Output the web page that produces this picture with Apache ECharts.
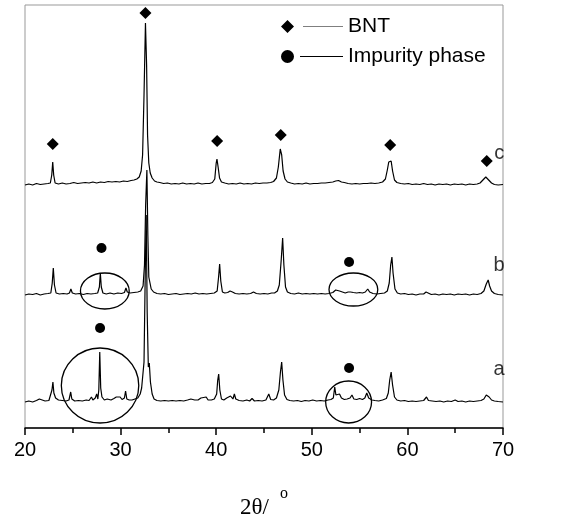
<!DOCTYPE html>
<html><head><meta charset="utf-8">
<script src="https://cdn.jsdelivr.net/npm/echarts@6/dist/echarts.min.js"></script>
<style>html,body{margin:0;padding:0;background:#fff}#c{width:565px;height:515px}</style>
</head><body><div id="c"></div>
<script>
// x ticks
const xTicks = [20, 30, 40, 50, 60, 70];
// vertical offsets of the stacked patterns (intensity units)
const offsetA = 26, offsetB = 133, offsetC = 243;
// Pattern c: [2theta, intensity above its baseline]
const traceC = [[20,0],[20.4,1],[20.8,0],[21.2,1.5],[21.6,0.5],[22,1],[22.4,1.5],[22.65,2],[22.8,10],[22.9,23],[23.0,10],[23.15,2],[23.5,1],[23.9,2],[24.3,1],[24.7,1.5],[25.1,2.5],[25.5,1.5],[25.9,2],[26.3,2.5],[26.7,2],[27.1,3],[27.5,2],[27.9,3],[28.3,2.5],[28.7,3.5],[29.1,3],[29.5,3.5],[29.9,3],[30.3,4],[30.7,3.5],[31.1,4.5],[31.4,5],[31.7,6],[31.95,8],[32.15,14],[32.3,30],[32.45,90],[32.6,162],[32.72,120],[32.82,50],[32.95,22],[33.1,12],[33.3,7],[33.55,4],[33.8,3],[34.1,2.5],[34.5,1.5],[34.9,2],[35.3,1],[35.7,1.5],[36.1,1],[36.5,2],[36.9,1],[37.3,1.5],[37.7,1],[38.1,2],[38.5,1],[38.9,1.5],[39.3,1.5],[39.6,2.5],[39.85,6],[40.0,22],[40.08,26],[40.2,18],[40.35,7],[40.55,3],[40.9,2],[41.3,1],[41.7,1.5],[42.1,1],[42.5,2],[42.9,1],[43.3,1.5],[43.7,1],[44.1,2],[44.5,1.5],[44.9,2],[45.3,2],[45.7,2.5],[46.0,3.5],[46.3,7],[46.5,18],[46.7,36],[46.85,30],[47.0,14],[47.2,6],[47.45,3],[47.8,2],[48.2,1],[48.6,1.5],[49.0,1],[49.4,2],[49.8,1],[50.2,1.5],[50.6,1.5],[51.0,2],[51.4,2],[51.8,2.5],[52.2,3],[52.5,4],[52.8,4.5],[53.1,3],[53.4,2.5],[53.8,1.5],[54.2,1],[54.6,1.5],[55.0,1],[55.4,1.5],[55.8,1.5],[56.2,2],[56.6,1.5],[57.0,2],[57.4,3],[57.7,6],[57.9,15],[58.05,23],[58.15,22],[58.3,24],[58.45,14],[58.65,5],[58.9,2.5],[59.3,1.5],[59.7,1],[60.1,1.5],[60.5,0.5],[60.9,1],[61.3,0.5],[61.7,1.5],[62.1,0.5],[62.5,1],[62.9,0],[63.3,1],[63.7,0.5],[64.1,1],[64.5,0],[64.9,1],[65.3,0.5],[65.7,1],[66.1,0],[66.5,1],[66.9,0.5],[67.3,1],[67.6,2],[67.9,5],[68.2,8],[68.5,5],[68.8,2],[69.1,0.5],[69.5,0],[70,0.5]];
// Pattern b
const traceB = [[20,0],[20.4,1],[20.8,0.5],[21.2,1.5],[21.6,0],[22.0,1],[22.4,1.5],[22.7,2],[22.85,12],[22.96,27],[23.08,10],[23.25,2],[23.6,1],[24.0,1.5],[24.4,1],[24.65,2],[24.8,6],[24.95,2],[25.3,1],[25.7,1.5],[26.1,0.5],[26.5,1.5],[26.9,1],[27.3,1.5],[27.6,2],[27.78,8],[27.88,22],[27.98,8],[28.15,2],[28.5,1],[28.9,2],[29.3,1],[29.7,2],[30.1,1.5],[30.4,2.5],[30.56,7],[30.7,3],[31.0,2],[31.4,2.5],[31.8,3],[32.1,4],[32.35,9],[32.5,30],[32.62,90],[32.75,125],[32.85,60],[32.95,18],[33.05,17],[33.2,6],[33.45,3],[33.8,1.5],[34.2,1],[34.6,1.5],[35.0,0.5],[35.4,1],[35.8,1.5],[36.2,0.5],[36.6,1],[37.0,1.5],[37.4,1],[37.8,2],[38.2,1],[38.6,1.5],[39.0,1],[39.4,1.5],[39.8,2],[40.1,4],[40.25,18],[40.36,31],[40.48,14],[40.65,3],[40.9,2],[41.2,2.5],[41.45,4],[41.7,3],[42.0,1.5],[42.4,1],[42.8,1.5],[43.2,1],[43.6,1.5],[43.9,3],[44.2,1.5],[44.6,1],[45.0,1.5],[45.4,1],[45.8,2],[46.1,2],[46.4,4],[46.6,10],[46.8,35],[46.95,57],[47.08,30],[47.25,8],[47.45,3],[47.8,1.5],[48.2,1],[48.6,2],[49.0,1],[49.4,1.5],[49.8,1],[50.2,1.5],[50.6,1],[51.0,1.5],[51.4,1],[51.8,1.5],[52.2,2.5],[52.5,5],[52.7,7],[52.9,4],[53.2,3],[53.5,2],[53.8,3],[54.05,3],[54.2,5],[54.35,2.5],[54.7,2],[55.0,2.5],[55.3,2],[55.6,3],[55.85,6],[56.05,3],[56.4,1.5],[56.8,1],[57.2,1.5],[57.6,2],[57.9,4],[58.1,12],[58.25,30],[58.38,38],[58.5,22],[58.7,6],[58.95,2],[59.3,1],[59.7,1.5],[60.1,0.5],[60.5,1],[60.9,0],[61.3,1],[61.7,1],[61.95,3],[62.15,1],[62.5,0.5],[62.9,1],[63.3,0],[63.7,1],[64.1,0.5],[64.5,1],[64.9,0],[65.3,1],[65.7,0.5],[66.1,1],[66.5,0],[66.9,1],[67.3,0.5],[67.7,1.5],[68.0,4],[68.25,11],[68.45,15],[68.6,9],[68.8,4],[69.1,1.5],[69.5,0.5],[70,0]];
// Pattern a
const traceA = [[20,0],[20.4,1],[20.8,0],[21.2,1.5],[21.5,3],[21.7,1],[22.1,1],[22.5,1.5],[22.7,3],[22.82,12],[22.92,20],[23.02,9],[23.2,4],[23.5,2],[23.9,1.5],[24.3,1],[24.6,2],[24.78,10],[24.9,3],[25.2,1],[25.6,1.5],[26.0,1],[26.4,2],[26.7,1.5],[26.95,5],[27.1,2],[27.35,4],[27.5,8],[27.62,3],[27.72,12],[27.82,50],[27.92,14],[28.05,5],[28.3,2],[28.6,3],[28.8,5],[29.0,2],[29.3,3.5],[29.55,5],[29.75,3],[29.95,5],[30.15,2.5],[30.4,4],[30.52,11],[30.65,3],[30.9,2],[31.2,2],[31.5,3],[31.8,4],[32.05,8],[32.2,14],[32.35,12],[32.45,40],[32.58,130],[32.68,187],[32.78,90],[32.9,35],[33.0,39],[33.12,20],[33.3,8],[33.5,3],[33.8,1.5],[34.2,1],[34.6,1.5],[35.0,1],[35.4,1.5],[35.8,1],[36.2,1.5],[36.6,1],[37.0,2],[37.35,3],[37.55,5],[37.75,2],[38.1,2],[38.4,4],[38.6,2],[38.95,5],[39.15,2],[39.5,2],[39.8,3],[40.05,8],[40.16,22],[40.26,28],[40.38,12],[40.55,3],[40.8,2],[41.1,4],[41.3,3],[41.5,6],[41.75,3],[41.9,8],[42.05,3],[42.4,1.5],[42.8,1],[43.2,2],[43.5,1],[43.75,3.5],[44.0,1],[44.4,1.5],[44.8,1],[45.2,2],[45.5,8],[45.7,2.5],[46.0,2],[46.3,4],[46.55,12],[46.72,30],[46.85,40],[46.98,22],[47.15,7],[47.4,2.5],[47.7,1.5],[48.1,1],[48.5,1.5],[48.9,0.5],[49.3,1.5],[49.7,1],[50.1,2],[50.5,1],[50.9,1.5],[51.3,1],[51.7,2],[52.0,2.5],[52.25,4],[52.4,15],[52.52,7],[52.7,5],[52.9,8],[53.1,4],[53.4,2.5],[53.7,3],[54.0,4],[54.2,7],[54.4,3],[54.7,2.5],[55.0,3.5],[55.3,2.5],[55.55,4],[55.75,9],[55.95,4],[56.3,2],[56.6,1.5],[57.0,1],[57.4,2],[57.8,3.5],[58.0,9],[58.15,22],[58.3,30],[58.45,17],[58.65,5],[58.9,2],[59.3,1],[59.7,1.5],[60.1,0.5],[60.5,1],[60.9,0.5],[61.3,1],[61.7,1.5],[62.0,5],[62.2,1.5],[62.6,1],[63.0,0.5],[63.4,1],[63.8,0],[64.2,1],[64.6,0.5],[65.0,2],[65.3,0.5],[65.7,1],[66.1,0],[66.5,1],[66.9,0.5],[67.3,1],[67.7,1.5],[68.0,3],[68.25,7],[68.4,9],[68.55,5],[68.8,2],[69.1,1],[69.5,0.5],[70,0]];
// BNT peak markers (diamonds) [2theta, y]
const bntMarks = [[22.9,284],[32.6,415],[40.1,287],[46.75,293],[58.2,283],[68.3,267]];
// impurity markers (circles)
const impurityMarks = [[28.0,180],[27.85,100],[53.9,166],[53.9,60]];
// ellipses round impurity peaks [cx, cy, rx, ry] in data units
const ellipses = [[28.35,137,2.55,18],[27.85,42.5,4.05,37.5],[54.35,138.5,2.55,16.5],[53.85,26,2.4,21]];
// curve labels
const curveNames = ['a','b','c'];
const curveLabelPos = [[69.6,59],[69.6,163],[69.6,275]];

const shift = (t, o) => t.map(p => [p[0], p[1] + o]);
const chart = echarts.init(document.getElementById('c'));
const lineStyle = {color:'#000', width:1.2};
const font = 'Liberation Sans, Arial, sans-serif';
const serif = 'Liberation Serif, Times New Roman, serif';
chart.setOption({
  animation:false,
  grid:{left:25, right:62, top:5, bottom:87, show:true, borderColor:'#999', borderWidth:1,
        outerBoundsMode:'none', containLabel:false},
  legend:{
    orient:'vertical', left:281, top:16, itemWidth:62, itemHeight:13, itemGap:9, padding:0,
    textStyle:{fontSize:21, color:'#000', fontFamily:font},
    data:[
      {name:'BNT', icon:'path://M0,6.5 L6.5,0 L13,6.5 L6.5,13 Z M22,6.2 L62,6.2 L62,6.8 L22,6.8 Z'},
      {name:'Impurity phase', icon:'path://M0,6.5 A6.5,6.5 0 1 1 13,6.5 A6.5,6.5 0 1 1 0,6.5 Z M19,5.9 L62,5.9 L62,7.1 L19,7.1 Z'}
    ]
  },
  xAxis:{
    type:'value', min:xTicks[0], max:xTicks[xTicks.length-1], interval:10,
    axisLine:{lineStyle:{color:'#000', width:1.5}},
    axisTick:{show:true, length:7, lineStyle:{color:'#000', width:1.5}},
    minorTick:{show:true, splitNumber:2, length:5, lineStyle:{color:'#000', width:1.5}},
    splitLine:{show:false},
    axisLabel:{fontSize:20, color:'#000', fontFamily:font, margin:12},
    name:'{m|2θ/}{s|o}', nameLocation:'middle', nameGap:58,
    nameTextStyle:{rich:{
      m:{fontFamily:serif, fontSize:23, color:'#000', padding:[4,0,0,0]},
      s:{fontFamily:serif, fontSize:16, color:'#000', padding:[0,0,24,11]}
    }}
  },
  yAxis:{type:'value', min:0, max:423, show:false},
  series:[
    {type:'line', data:shift(traceA, offsetA), showSymbol:false, lineStyle, z:2},
    {type:'line', data:shift(traceB, offsetB), showSymbol:false, lineStyle, z:2},
    {type:'line', data:shift(traceC, offsetC), showSymbol:false, lineStyle, z:2},
    {name:'BNT', type:'scatter', data:bntMarks, symbol:'diamond', symbolSize:12, itemStyle:{color:'#000', opacity:1}, z:5},
    {name:'Impurity phase', type:'scatter', data:impurityMarks, symbol:'circle', symbolSize:10, itemStyle:{color:'#000', opacity:1}, z:5},
    {type:'custom', data:ellipses, clip:false, z:6,
      renderItem:(params, api) => {
        const c = api.coord([api.value(0), api.value(1)]);
        const s = api.size([api.value(2), api.value(3)]);
        return {type:'ellipse', shape:{cx:c[0], cy:c[1], rx:s[0], ry:s[1]},
          style:{fill:'none', stroke:'#000', lineWidth:1.3}};
      }},
    {type:'scatter', symbolSize:1, itemStyle:{color:'rgba(0,0,0,0)'}, z:7,
      data:curveNames.map((n,i) => ({name:n, value:curveLabelPos[i]})),
      label:{show:true, position:'inside', formatter:'{b}', fontSize:20, color:'#000', fontFamily:font}}
  ]
});
</script></body></html>
